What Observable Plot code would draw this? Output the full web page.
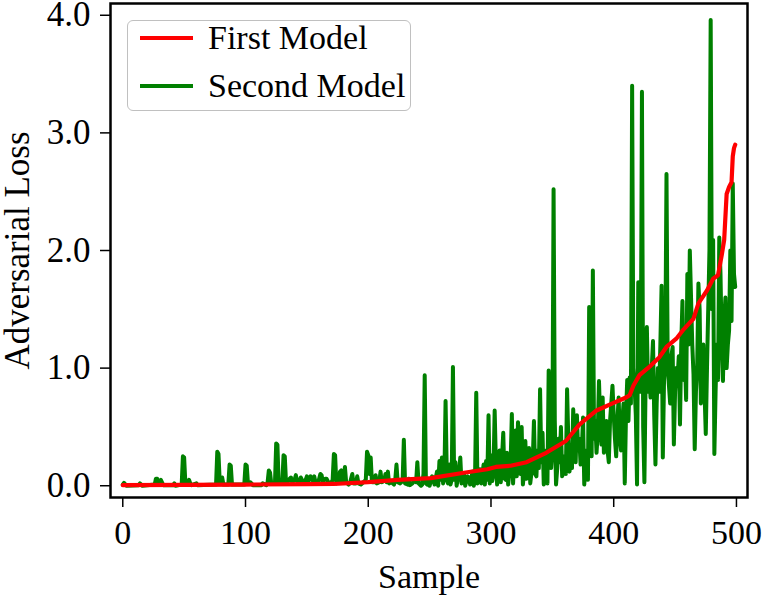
<!DOCTYPE html>
<html>
<head>
<meta charset="utf-8">
<script src="https://cdn.jsdelivr.net/npm/d3@7"></script>
<script src="https://cdn.jsdelivr.net/npm/@observablehq/plot@0.6"></script>
<style>
  html, body { margin: 0; padding: 0; background: white; }
  #wrap { position: relative; width: 762px; height: 598px; font-family: "Liberation Serif", "Times New Roman", serif; }
  #legend-box { position: absolute; left: 127px; top: 20px; width: 284px; height: 91px; box-sizing: border-box;
    border: 1.5px solid #c0c0c0; border-radius: 6px; background: rgba(255,255,255,0.85); }
  .lg-row { position: absolute; left: 140px; height: 40px; display: flex; align-items: center; white-space: nowrap; }
  .lg-sw { width: 53px; height: 4px; }
  .lg-tx { margin-left: 15px; font-size: 34px; line-height: 40px; color: #000; }
</style>
</head>
<body>
<div id="wrap">
  <div id="chart"></div>
  <div id="legend-box"></div>
  <div class="lg-row" style="top:18px"><div class="lg-sw" style="background:#ff0000"></div><span class="lg-tx">First Model</span></div>
  <div class="lg-row" style="top:66px"><div class="lg-sw" style="background:#008000"></div><span class="lg-tx">Second Model</span></div>
</div>
<script>
const xTicks = [0, 100, 200, 300, 400, 500];
const yTicks = [0, 1, 2, 3, 4];
const seriesNames = ["First Model", "Second Model"];
const seriesColors = ["#ff0000", "#008000"];

// First Model (red)
const redSample = [0, 50, 100, 150, 172, 200, 224, 251, 278, 297, 304, 316, 329, 345, 361, 372, 386, 399, 410, 413, 416, 421, 429, 437, 443, 451, 457, 465, 469, 476, 481, 485, 488, 490, 492, 494, 496, 497, 498, 499];
const redLoss = [0.005, 0.007, 0.01, 0.013, 0.015, 0.03, 0.05, 0.065, 0.11, 0.14, 0.16, 0.17, 0.20, 0.28, 0.38, 0.52, 0.64, 0.70, 0.75, 0.77, 0.85, 0.94, 1.01, 1.09, 1.18, 1.25, 1.33, 1.42, 1.55, 1.66, 1.76, 1.79, 1.96, 2.09, 2.48, 2.54, 2.58, 2.80, 2.87, 2.90];

// Second Model (green), peaks and troughs
const greenSample = [0,1,3,13,14,16,26,27,28,29,31,33,41,42,43,48,49,50,51,53,54,55,56,60,61,76,77,78,79,80,81,82,86,87,88,89,99,100,101,102,104,106,113,114,117,118,119,120,121,124,125,126,127,130,131,132,133,135,136,137,138,140,141,142,144,145,147,149,150,151,153,155,156,157,159,161,162,163,165,166,168,170,171,172,173,174,176,177,178,179,180,181,182,184,185,187,188,190,191,192,194,196,198,199,200,201,202,203,205,206,207,209,210,211,213,214,215,216,217,219,221,222,223,224,226,228,229,230,232,233,234,236,238,239,240,241,243,244,245,246,247,248,249,250,252,253,254,256,257,258,259,260,261,262,263,264,265,266,267,268,269,270,271,272,274,275,276,277,278,279,281,282,283,285,286,287,288,289,290,291,292,294,295,296,297,298,299,300,301,302,303,304,305,307,308,310,311,312,313,314,316,317,318,320,321,322,323,324,325,326,327,328,329,330,331,332,334,335,336,337,338,339,340,341,342,343,344,345,346,347,348,349,350,351,352,353,354,355,356,357,358,359,360,361,362,363,364,365,366,367,368,369,370,371,372,373,374,375,376,377,378,379,380,381,382,383,384,385,386,387,388,389,390,391,392,393,394,395,396,397,398,399,400,401,402,403,404,405,406,407,408,409,410,411,412,413,414,415,416,417,418,419,420,421,422,423,424,425,426,427,428,429,430,431,432,433,434,435,436,437,438,439,440,441,442,443,444,445,446,447,448,449,450,451,452,453,454,455,456,457,458,459,460,461,462,463,464,465,466,467,468,469,470,471,472,473,474,475,476,477,478,479,480,481,482,483,484,485,486,487,488,489,490,491,492,493,494,495,496,497,498,499];
const greenLoss = [0.01,0.025,0.0,0.005,0.02,0.0,0.01,0.06,0.06,0.03,0.05,0.005,0.005,0.02,0.0,0.01,0.25,0.24,0.02,0.02,0.05,0.02,0.005,0.02,0.005,0.01,0.29,0.27,0.03,0.02,0.07,0.01,0.01,0.18,0.17,0.01,0.01,0.18,0.17,0.02,0.03,0.005,0.005,0.02,0.005,0.03,0.13,0.11,0.02,0.02,0.36,0.35,0.02,0.03,0.26,0.25,0.03,0.04,0.06,0.07,0.03,0.05,0.09,0.04,0.03,0.07,0.03,0.05,0.08,0.03,0.08,0.04,0.08,0.03,0.02,0.10,0.09,0.03,0.06,0.06,0.02,0.03,0.05,0.27,0.26,0.02,0.04,0.12,0.13,0.03,0.05,0.16,0.03,0.01,0.02,0.10,0.02,0.02,0.08,0.02,0.01,0.03,0.05,0.29,0.26,0.10,0.24,0.03,0.03,0.09,0.02,0.03,0.12,0.03,0.04,0.10,0.03,0.12,0.02,0.03,0.01,0.05,0.18,0.03,0.02,0.04,0.39,0.02,0.01,0.06,0.005,0.02,0.05,0.03,0.20,0.02,0.0,0.01,0.10,0.94,0.02,0.01,0.05,0.0,0.08,0.06,0.01,0.12,0.0,0.21,0.05,0.24,0.02,0.05,0.72,0.10,0.02,0.18,0.01,0.05,1.01,0.05,0.20,0.0,0.12,0.24,0.02,0.03,0.10,0.0,0.08,0.07,0.01,0.12,0.0,0.06,0.79,0.02,0.05,0.14,0.02,0.18,0.01,0.21,0.05,0.60,0.02,0.26,0.04,0.10,0.64,0.20,0.01,0.30,0.03,0.45,0.06,0.05,0.28,0.01,0.20,0.61,0.02,0.47,0.08,0.54,0.35,0.10,0.50,0.01,0.12,0.38,0.06,0.10,0.32,0.02,0.20,0.55,0.10,0.08,0.30,0.15,0.82,0.20,0.45,0.01,0.10,0.30,0.02,0.98,0.50,0.15,0.30,2.52,0.55,0.01,0.15,0.40,0.20,0.50,0.08,0.12,0.25,0.10,0.82,0.40,0.12,0.25,0.15,0.65,0.40,0.20,0.60,0.30,0.40,0.18,0.30,0.58,0.01,0.20,0.30,0.05,1.52,0.50,0.25,1.83,0.40,0.55,0.28,0.45,0.89,0.55,0.35,0.75,0.28,0.40,0.55,0.30,0.20,0.55,0.70,0.85,0.60,0.40,0.25,0.55,0.75,0.40,0.30,0.55,0.70,0.02,0.60,0.90,0.55,0.92,0.70,3.40,1.00,0.85,0.60,0.01,1.73,1.20,0.80,3.35,0.50,0.03,0.90,1.35,0.80,0.95,0.75,1.00,1.23,0.60,0.18,0.70,1.00,0.80,1.20,1.70,0.24,0.90,1.10,2.65,1.00,0.85,0.70,1.10,1.18,0.35,0.80,1.00,0.90,1.10,0.52,1.20,1.57,0.90,1.10,0.73,1.80,1.20,2.00,1.60,1.20,0.95,0.31,0.80,1.00,1.72,1.50,0.70,1.00,1.20,0.80,0.44,1.00,1.50,2.00,3.96,1.50,2.09,0.27,0.80,1.20,0.90,2.11,1.80,1.20,0.89,1.40,1.60,1.00,1.20,1.32,2.00,1.40,2.57,1.80,1.69];

const first = redSample.map((s, i) => ({sample: s, loss: redLoss[i], model: seriesNames[0]}));
const second = greenSample.map((s, i) => ({sample: s, loss: greenLoss[i], model: seriesNames[1]}));

const chart = Plot.plot({
  width: 762,
  height: 598,
  marginLeft: 110,
  marginRight: 15,
  marginTop: 3,
  marginBottom: 101,
  style: {fontFamily: "'Liberation Serif', 'Times New Roman', serif", fontSize: "34px", background: "white", color: "black", overflow: "visible"},
  x: {domain: [-10, 509]},
  y: {domain: [-0.1, 4.1]},
  marks: [
    Plot.line(second, {x: "sample", y: "loss", stroke: seriesColors[1], strokeWidth: 4}),
    Plot.line(first, {x: "sample", y: "loss", stroke: seriesColors[0], strokeWidth: 4.2}),
    Plot.axisX({ticks: xTicks, tickSize: 10, tickPadding: 12, tickFormat: d => String(d), strokeWidth: 1.5,
      label: "Sample", labelAnchor: "center", labelOffset: 90, labelArrow: "none", fontSize: 34}),
    Plot.axisY({ticks: yTicks, tickSize: 10, tickPadding: 10, tickFormat: d => d.toFixed(1), strokeWidth: 1.5,
      label: "Adversarial Loss", labelAnchor: "center", labelOffset: 106, labelArrow: "none", fontSize: 35}),
    Plot.frame({stroke: "black", strokeWidth: 2.5})
  ]
});
document.getElementById("chart").appendChild(chart);
</script>
</body>
</html>
